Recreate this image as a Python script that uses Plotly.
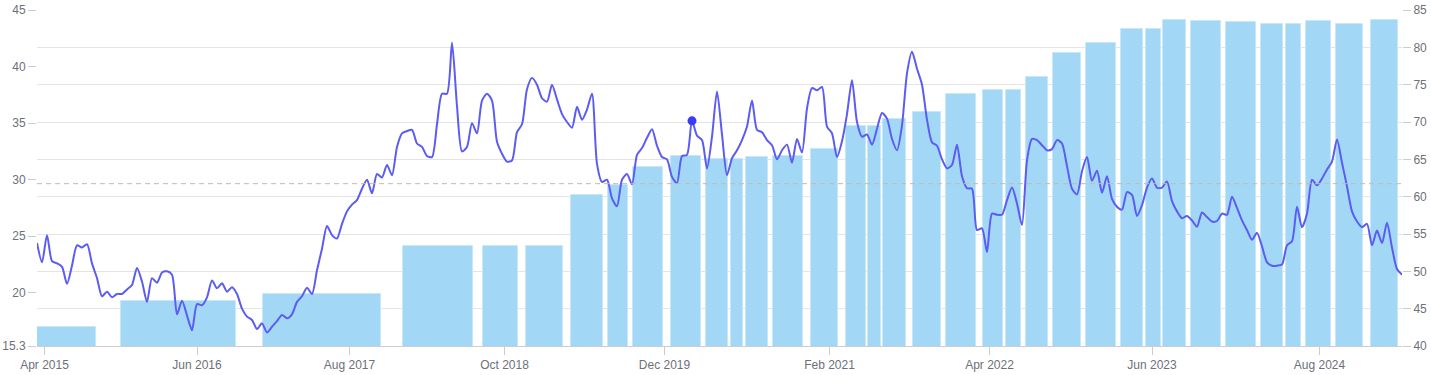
import pandas as pd
import plotly.graph_objects as go

# ---------------- data ----------------
# category (observation) axis: observations per period between the labelled months
period_bounds = ["2015-03-11", "2015-04-01", "2016-06-01", "2017-08-01", "2018-10-01",
                 "2019-12-01", "2021-02-01", "2022-04-01", "2023-06-01", "2024-08-01",
                 "2025-02-27"]
obs_per_period = [3, 61, 61, 62, 64, 66, 64, 65, 67, 34]

tick_dates = ["2015-04-01", "2016-06-01", "2017-08-01", "2018-10-01", "2019-12-01",
              "2021-02-01", "2022-04-01", "2023-06-01", "2024-08-01"]

# line series (left axis), one value every second observation
line_values = [
    24.4, 22.7, 25.1, 22.8, 22.6, 22.3, 20.8, 22.4, 24.2, 24.0,
    24.3, 22.6, 21.3, 19.7, 20.1, 19.6, 19.9, 19.9, 20.3, 20.7,
    22.2, 21.0, 19.2, 21.3, 20.9, 21.8, 21.9, 21.6, 18.1, 19.3,
    18.0, 16.7, 19.0, 18.9, 19.6, 21.1, 20.4, 20.85, 20.1, 20.5,
    19.9, 18.6, 17.9, 17.6, 16.8, 17.3, 16.5, 17.0, 17.5, 18.05,
    17.75, 18.1, 19.2, 19.7, 20.45, 19.9, 22.0, 23.9, 25.9, 25.1,
    24.8, 26.1, 27.2, 27.8, 28.2, 29.2, 30.0, 28.8, 30.5, 30.2,
    31.3, 30.4, 32.9, 34.1, 34.3, 34.4, 33.2, 32.9, 32.1, 32.0,
    34.9, 37.6, 37.6, 42.1, 36.5, 32.5, 32.9, 35.0, 34.1, 37.0,
    37.6, 37.0, 33.35, 32.3, 31.6, 31.7, 34.2, 34.9, 38.0, 39.0,
    38.4, 37.2, 36.9, 38.4, 37.1, 35.8, 35.1, 34.6, 36.45, 35.3,
    36.2, 37.6, 31.4, 29.8, 30.0, 28.35, 27.65, 30.0, 30.5, 29.6,
    32.2, 32.8, 33.7, 34.45, 33.0, 32.0, 31.8, 30.25, 29.7, 32.1,
    32.2, 35.2, 33.9, 33.5, 31.0, 33.8, 37.8, 34.0, 30.4, 31.9,
    32.6, 33.5, 34.7, 37.0, 34.4, 34.2, 33.5, 33.05, 31.8, 32.6,
    33.1, 31.5, 33.6, 32.4, 36.3, 38.1, 37.9, 38.2, 34.7, 34.1,
    32.0, 33.4, 35.8, 38.8, 35.1, 33.8, 34.0, 33.1, 34.5, 35.9,
    35.4, 33.6, 32.6, 34.8, 39.4, 41.3, 39.8, 38.4, 35.3, 33.3,
    33.0, 31.8, 31.0, 31.3, 33.1, 30.3, 29.25, 29.2, 25.55, 25.7,
    23.6, 27.0, 26.9, 26.9, 28.2, 29.3, 27.9, 26.0, 31.7, 33.6,
    33.5, 33.05, 32.6, 32.7, 33.5, 33.2, 31.2, 29.2, 28.7, 30.75,
    32.0, 29.9, 30.8, 28.85, 30.3, 28.3, 27.6, 27.35, 28.9, 28.65,
    26.8, 27.75, 29.3, 30.1, 29.3, 29.3, 29.85, 28.1, 27.2, 26.6,
    26.8, 26.4, 25.85, 27.1, 26.7, 26.3, 26.35, 27.0, 26.9, 28.5,
    27.5, 26.4, 25.55, 24.7, 25.3, 24.1, 22.7, 22.4, 22.4, 22.5,
    24.2, 24.55, 27.6, 25.8, 27.0, 30.0, 29.5, 30.1, 30.9, 31.6,
    33.55, 31.5, 29.4, 27.2, 26.3, 25.8, 26.1, 24.2, 25.5, 24.4,
    26.2, 24.0, 22.1, 21.6,
]
highlight_obs = 131          # highlighted observation of the line
average_value = 29.65        # average mark line (left axis)

# bar series (right axis): period start, period end, value
bar_start = ["2015-03-08", "2015-11-01", "2016-12-03", "2017-12-27", "2018-08-04",
             "2018-11-26", "2019-03-26", "2019-07-04", "2019-09-09", "2019-12-17",
             "2020-03-17", "2020-05-21", "2020-06-29", "2020-09-08", "2020-12-14",
             "2021-03-16", "2021-05-14", "2021-06-23", "2021-09-11", "2021-12-06",
             "2022-03-15", "2022-05-13", "2022-07-05", "2022-09-15", "2022-12-09",
             "2023-03-11", "2023-05-15", "2023-06-29", "2023-09-08", "2023-12-06",
             "2024-03-04", "2024-05-07", "2024-06-27", "2024-09-11", "2024-12-09"]
bar_end = ["2015-08-22", "2016-09-16", "2017-10-25", "2018-07-06", "2018-11-06",
           "2019-03-06", "2019-06-20", "2019-08-26", "2019-11-27", "2020-03-03",
           "2020-05-14", "2020-06-22", "2020-08-25", "2020-11-24", "2021-02-23",
           "2021-05-07", "2021-06-16", "2021-08-21", "2021-11-22", "2022-02-23",
           "2022-05-06", "2022-06-21", "2022-09-01", "2022-11-25", "2023-02-25",
           "2023-05-08", "2023-06-23", "2023-08-25", "2023-11-23", "2024-02-20",
           "2024-04-30", "2024-06-14", "2024-08-29", "2024-11-20", "2025-02-17"]
bar_values = [42.5, 46.0, 46.9, 53.4, 53.4, 53.4, 60.2, 61.5, 64.0, 65.4,
              65.0, 65.0, 65.3, 65.5, 66.4, 69.5, 69.5, 70.4, 71.3, 73.7,
              74.3, 74.3, 76.0, 79.3, 80.6, 82.4, 82.4, 83.7, 83.5, 83.4,
              83.1, 83.1, 83.5, 83.1, 83.6]

# ---------------- build categories ----------------
cat_ts = []
for i, n in enumerate(obs_per_period):
    a, b = pd.Timestamp(period_bounds[i]), pd.Timestamp(period_bounds[i + 1])
    if i < len(obs_per_period) - 1:
        rng = pd.date_range(a, b, periods=n + 1)[:-1]
    else:
        rng = pd.date_range(a, b, periods=n)
    cat_ts.extend(list(rng))
cats = [t.strftime("%Y-%m-%d") for t in cat_ts]

line_x = cats[::2][:len(line_values)]
tick_text = [pd.Timestamp(d).strftime("%b %Y") for d in tick_dates]

bx, bw, by = [], [], []
for s, e, v in zip(bar_start, bar_end, bar_values):
    s, e = pd.Timestamp(s), pd.Timestamp(e)
    idx = [i for i, t in enumerate(cat_ts) if s <= t <= e]
    bx.append(cats[idx[0]])
    bw.append(idx[-1] - idx[0] + 1)
    by.append(v)

AXIS_TXT = "#6e7079"
FONT = "Liberation Sans, Arial, sans-serif"

fig = go.Figure()
fig.add_trace(go.Bar(
    x=bx, y=by, width=bw, offset=-0.5, yaxis="y",
    marker=dict(color="#a2d8f5", line=dict(color="#c8e8fa", width=1)),
    hoverinfo="skip", showlegend=False,
))
fig.add_trace(go.Scatter(
    x=line_x, y=line_values, yaxis="y2", mode="lines",
    line=dict(color="#5c5cf2", width=2, shape="spline", smoothing=0.7),
    hoverinfo="skip", showlegend=False,
))
fig.add_trace(go.Scatter(
    x=[line_x[highlight_obs]], y=[line_values[highlight_obs]], yaxis="y2",
    mode="markers", marker=dict(color="#3b3bf5", size=9),
    hoverinfo="skip", showlegend=False,
))

fig.add_shape(type="line", xref="paper", x0=0, x1=1, yref="y2",
              y0=average_value, y1=average_value, layer="above",
              line=dict(color="#c6b8b0", width=1, dash="5px,4px"))

fig.update_layout(
    width=1431, height=375,
    margin=dict(l=37, r=29, t=10, b=29, autoexpand=False),
    paper_bgcolor="white", plot_bgcolor="white",
    font=dict(family=FONT, size=12, color=AXIS_TXT),
    bargap=0,
    xaxis=dict(
        type="category", categoryorder="array", categoryarray=cats,
        range=[0, len(cats) - 1], tickmode="array", tickvals=tick_dates,
        ticktext=tick_text, ticks="outside", ticklen=8, tickcolor="#cccccc",
        showline=True, linecolor="#cccccc", linewidth=1, showgrid=False,
        zeroline=False, automargin=False,
        tickfont=dict(family=FONT, size=12, color=AXIS_TXT),
    ),
    yaxis=dict(
        side="right", range=[40, 85], tickmode="array",
        tickvals=[40, 45, 50, 55, 60, 65, 70, 75, 80, 85],
        ticks="outside", ticklen=8, tickcolor="#cccccc",
        showgrid=True, gridcolor="#e4e4e4", gridwidth=1,
        showline=False, zeroline=False, automargin=False,
        tickfont=dict(family=FONT, size=12, color=AXIS_TXT),
    ),
    yaxis2=dict(
        side="left", overlaying="y", range=[15.3, 45], tickmode="array",
        tickvals=[15.3, 20, 25, 30, 35, 40, 45],
        ticktext=["15.3", "20", "25", "30", "35", "40", "45"],
        ticks="outside", ticklen=8, tickcolor="#cccccc",
        showgrid=False, showline=False, zeroline=False, automargin=False,
        tickfont=dict(family=FONT, size=12, color=AXIS_TXT),
    ),
)

fig.write_html("out.html",
               config={"displayModeBar": False},
               post_script="document.body.style.margin='0px';"
                           "document.body.style.overflow='hidden';")
